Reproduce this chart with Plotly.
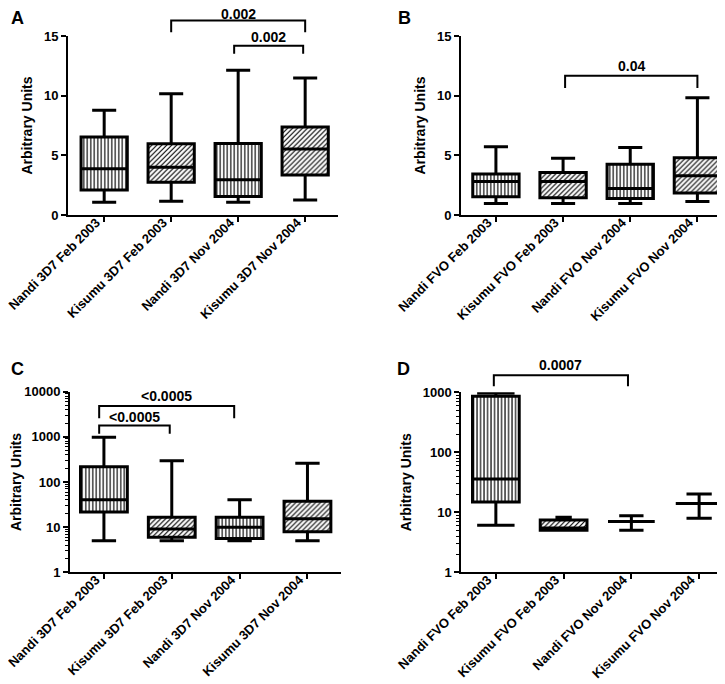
import math
import plotly.graph_objects as go

# ---------------- data ----------------
cats_3d7 = ["Nandi 3D7 Feb 2003", "Kisumu 3D7 Feb 2003", "Nandi 3D7 Nov 2004", "Kisumu 3D7 Nov 2004"]
cats_fvo = ["Nandi FVO Feb 2003", "Kisumu FVO Feb 2003", "Nandi FVO Nov 2004", "Kisumu FVO Nov 2004"]

# Panel A (3D7, linear)
a_low = [1.06, 1.15, 1.06, 1.26]
a_q1 = [2.09, 2.74, 1.56, 3.35]
a_med = [3.88, 4.00, 2.96, 5.53]
a_q3 = [6.54, 5.98, 6.00, 7.37]
a_high = [8.77, 10.17, 12.12, 11.48]

# Panel B (FVO, linear)
b_low = [0.97, 0.97, 0.97, 1.14]
b_q1 = [1.53, 1.45, 1.39, 1.84]
b_med = [2.81, 2.81, 2.23, 3.29]
b_q3 = [3.43, 3.57, 4.26, 4.79]
b_high = [5.71, 4.76, 5.65, 9.83]

# Panel C (3D7, log)
c_low = [5.0, 5.0, 5.0, 5.0]
c_q1 = [21.7, 6.0, 5.6, 7.9]
c_med = [40.6, 9.1, 9.9, 15.4]
c_q3 = [219, 16.5, 16.5, 37.4]
c_high = [975, 297, 40.6, 260]

# Panel D (FVO, log)
d_low = [6.07, 5.0, 5.0, 7.94]
d_q1 = [14.9, 5.0, 7.0, 14.0]
d_med = [36.0, 5.5, 7.0, 14.0]
d_q3 = [857, 7.45, 7.0, 14.0]
d_high = [977, 8.26, 8.8, 20.2]

lin_ticks = [0, 5, 10, 15]
log_ticks_c = [1, 10, 100, 1000, 10000]
log_ticks_d = [1, 10, 100, 1000]

# significance brackets: (x0, x1, y_bar, y_tip, label)
a_sig = [(1.0, 3.0, 16.29, 15.31, "0.002"), (1.94, 2.97, 14.19, 13.52, "0.002")]
b_sig = [(1.03, 3.0, 11.67, 10.64, "0.04")]
c_sig = [(-0.07, 0.97, 1780, 1170, "<0.0005"), (-0.07, 1.92, 4850, 2590, "<0.0005")]
d_sig = [(-0.03, 1.95, 1919, 1259, "0.0007")]

# ---------------- style ----------------
FONT = "Arial, Liberation Sans, sans-serif"
W, H = 725, 684
hatches = ["|", "/", "|", "/"]
BOXW = 0.69

panels = [
    dict(ax="1", cats=cats_3d7, low=a_low, q1=a_q1, med=a_med, q3=a_q3, high=a_high,
         log=False, yr=(0, 15), ticks=lin_ticks, sig=a_sig, lshift=[-3, -1],
         xdom=(60, 330), ydom=(28, 207), xr=(-0.54, 3.49), ww=[0.52] * 4,
         letter="A", lpos=(1, 2)),
    dict(ax="2", cats=cats_fvo, low=b_low, q1=b_q1, med=b_med, q3=b_q3, high=b_high,
         log=False, yr=(0, 15), ticks=lin_ticks, sig=b_sig, lshift=[0],
         xdom=(453, 725), ydom=(28, 207), xr=(-0.52, 3.53), ww=[0.52] * 4,
         letter="B", lpos=(388, 2)),
    dict(ax="3", cats=cats_3d7, low=c_low, q1=c_q1, med=c_med, q3=c_q3, high=c_high,
         log=True, yr=(1, 10000), ticks=log_ticks_c, sig=c_sig, lshift=[-1, 0],
         xdom=(62, 332.7), ydom=(383.7, 564.3), xr=(-0.5, 3.49), ww=[0.52] * 4,
         letter="C", lpos=(1, 353)),
    dict(ax="4", cats=cats_fvo, low=d_low, q1=d_q1, med=d_med, q3=d_q3, high=d_high,
         log=True, yr=(1, 1000), ticks=log_ticks_d, sig=d_sig, lshift=[0],
         xdom=(453.3, 725), ydom=(384.3, 564.3), xr=(-0.51, 3.5), ww=[0.8, 0.35, 0.52, 0.54],
         letter="D", lpos=(387, 353)),
]

fig = go.Figure()
shapes = []
annotations = []

for p in panels:
    n = p["ax"]
    xa = "x" if n == "1" else "x" + n
    ya = "y" if n == "1" else "y" + n
    # hatched fill (box body)
    fig.add_trace(go.Bar(
        x=p["cats"], y=[q3 - q1 for q1, q3 in zip(p["q1"], p["q3"])], base=p["q1"],
        width=BOXW, xaxis=xa, yaxis=ya, showlegend=False, hoverinfo="skip",
        marker=dict(color="white", line=dict(width=0),
                    pattern=dict(shape=hatches, fgcolor="black", bgcolor="white",
                                 size=3.5, solidity=0.33, fillmode="replace")),
    ))
    # box outlines, medians, whiskers
    for i, c in enumerate(p["cats"]):
        fig.add_trace(go.Box(
            x=[c], q1=[p["q1"][i]], median=[p["med"][i]], q3=[p["q3"][i]],
            lowerfence=[p["low"][i]], upperfence=[p["high"][i]],
            width=BOXW, whiskerwidth=p["ww"][i], fillcolor="rgba(0,0,0,0)",
            line=dict(color="black", width=3), xaxis=xa, yaxis=ya,
            showlegend=False, hoverinfo="skip",
        ))

    xd = (p["xdom"][0] / W, p["xdom"][1] / W)
    yd = (1 - p["ydom"][1] / H, 1 - p["ydom"][0] / H)
    lo, hi = p["yr"]
    axis_common = dict(showline=True, linewidth=2, linecolor="black", showgrid=False,
                       zeroline=False, ticks="outside", ticklen=5, tickwidth=2,
                       tickcolor="black", automargin=False,
                       tickfont=dict(family=FONT, size=13, color="black", weight="bold"))
    xkey = "xaxis" if n == "1" else "xaxis" + n
    ykey = "yaxis" if n == "1" else "yaxis" + n
    fig.layout[xkey] = dict(axis_common, domain=list(xd), anchor=ya, type="category",
                            categoryorder="array", categoryarray=p["cats"],
                            range=list(p["xr"]), tickangle=-45, fixedrange=True,
                            ticklabelstandoff=-12, ticklabelshift=-8)
    ydict = dict(axis_common, domain=list(yd), anchor=xa, tickvals=p["ticks"],
                 ticktext=[str(t) for t in p["ticks"]],
                 title=dict(text="Arbitrary Units",
                            font=dict(family=FONT, size=14, color="black", weight="bold"),
                            standoff=8))
    if p["log"]:
        ydict.update(type="log", range=[math.log10(lo), math.log10(hi)],
                     minor=dict(ticks="outside", ticklen=3, tickwidth=1, tickcolor="black",
                                dtick="D1", showgrid=False))
    else:
        ydict.update(range=[lo, hi])
    fig.layout[ykey] = ydict

    def px_x(c, xd=xd, xr=p["xr"]):
        return xd[0] + (c - xr[0]) / (xr[1] - xr[0]) * (xd[1] - xd[0])

    def px_y(v, yd=yd, lo=lo, hi=hi, lg=p["log"]):
        if lg:
            f = (math.log10(v) - math.log10(lo)) / (math.log10(hi) - math.log10(lo))
        else:
            f = (v - lo) / (hi - lo)
        return yd[0] + f * (yd[1] - yd[0])

    for k, (x0, x1, yb, yt, lab) in enumerate(p["sig"]):
        X0, X1, YB, YT = px_x(x0), px_x(x1), px_y(yb), px_y(yt)
        shapes.append(dict(type="path", xref="paper", yref="paper",
                           path=f"M {X0},{YT} L {X0},{YB} L {X1},{YB} L {X1},{YT}",
                           line=dict(color="black", width=2)))
        annotations.append(dict(text=lab, xref="paper", yref="paper",
                                x=(X0 + X1) / 2, y=YB, xanchor="center", yanchor="bottom",
                                yshift=p["lshift"][k], showarrow=False,
                                font=dict(family=FONT, size=14, color="black", weight="bold")))

    annotations.append(dict(text=p["letter"], xref="paper", yref="paper",
                            x=p["lpos"][0] / W, y=1 - p["lpos"][1] / H,
                            xanchor="left", yanchor="top", yshift=4, showarrow=False,
                            font=dict(family=FONT, size=18, color="black", weight="bold")))

fig.update_layout(
    width=W, height=H, margin=dict(l=0, r=0, t=0, b=0, autoexpand=False),
    paper_bgcolor="white", plot_bgcolor="white",
    shapes=shapes, annotations=annotations, showlegend=False,
    barmode="overlay", boxmode="overlay",
    font=dict(family=FONT, color="black"),
)

fig.write_html("out.html")
